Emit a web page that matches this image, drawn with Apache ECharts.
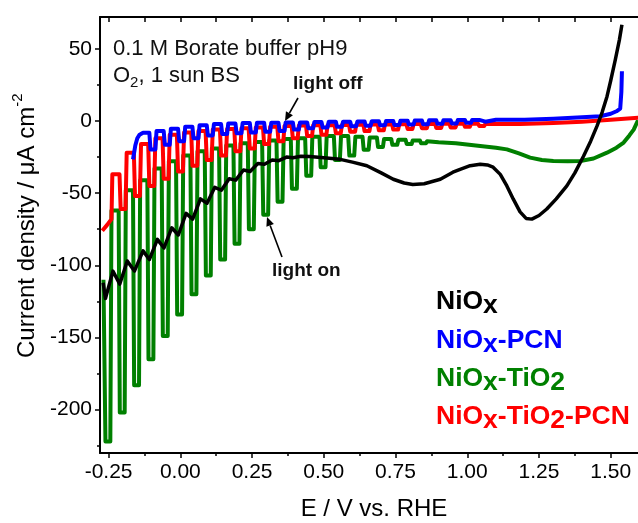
<!DOCTYPE html>
<html><head><meta charset="utf-8">
<script src="https://cdn.jsdelivr.net/npm/echarts@6/dist/echarts.min.js"></script>
<style>html,body{margin:0;padding:0;background:#fff}#c{width:638px;height:523px}</style>
</head><body><div id="c"></div>
<script>
// ---------------- data ----------------
// axis ticks
const xMajor = [-0.25, 0, 0.25, 0.5, 0.75, 1.0, 1.25, 1.5];
const xMinor = [-0.125, 0.125, 0.375, 0.625, 0.875, 1.125, 1.375];
const yMajor = [-200, -150, -100, -50, 0, 50];
const yMinor = [-225, -175, -125, -75, -25, 25];

// NiOx-TiO2 (green): chopped light, light-on potentials, light level, dark level after each pulse
const greenStart = [[-0.268, -110]];
const greenOn = [-0.265,-0.215,-0.165,-0.115,-0.065,-0.015,0.035,0.085,0.135,0.185,0.235,0.285,0.335,0.385,0.435,0.485,0.535,0.585,0.635,0.685,0.735,0.785,0.835];
const greenLight = [-222,-202,-183,-165,-149,-134,-120,-107,-96,-85,-75,-65,-56,-47,-38,-32,-27,-24,-20,-18,-16.5,-16,-15.5];
const greenDark = [-62,-48,-41,-33,-28,-24,-21,-19,-17,-15.5,-14.5,-13.5,-12.5,-12,-11,-10.5,-10.5,-11,-11.5,-12.5,-13,-13.5,-14];
const greenTail = [[0.9,-14.8],[0.96,-15.5],[1.045,-17.4],[1.1,-18.5],[1.138,-19.7],[1.18,-22.5],[1.219,-25.4],[1.26,-27],[1.3,-27.7],[1.35,-28],[1.394,-27.7],[1.44,-26],[1.487,-22],[1.52,-18.5],[1.545,-15],[1.565,-10],[1.58,-6],[1.595,0.5]];

// NiOx-TiO2-PCN (red)
const redStart = [[-0.272,-76],[-0.255,-72],[-0.24,-68],[-0.237,-37]];
const redOn = [-0.212,-0.162,-0.112,-0.062,-0.012,0.038,0.088,0.138,0.188,0.238,0.288,0.338,0.388,0.438,0.488,0.538,0.588,0.638,0.688,0.738,0.788,0.838,0.888,0.938,0.988,1.038];
const redLight = [-61,-52,-45,-40,-35,-31,-27,-24,-21,-19,-16,-14,-12,-10.5,-9.5,-8.5,-7.5,-7,-6.5,-6,-5.5,-5,-4.8,-4.5,-4,-3.5];
const redDark = [-22,-16,-12,-9.5,-8,-7,-6,-5.5,-5,-4.5,-4,-3.5,-3.2,-3,-3,-2.8,-2.6,-2.5,-2.4,-2.3,-2.2,-2.1,-2,-2,-2,-2];
const redTail = [[1.1,-2.2],[1.184,-2.2],[1.3,-1.4],[1.4,-0.5],[1.5,0.8],[1.596,2.2]];

// NiOx-PCN (blue)
const blueStart = [[-0.165,-26.6],[-0.157,-17],[-0.15,-12],[-0.142,-9.5],[-0.13,-8.2]];
const blueOn = [-0.108,-0.058,-0.008,0.042,0.092,0.142,0.192,0.242,0.292,0.342,0.392,0.442,0.492,0.542,0.592,0.642,0.692,0.742,0.792,0.842,0.892,0.942,0.992,1.042];
const blueLight = [-19.7,-16.5,-14,-12,-10,-9,-8.5,-8,-7.5,-7,-6,-5,-4.5,-4,-3.6,-3.3,-3,-2.8,-2.5,-2.3,-2,-1.7,-1.2,-0.5];
const blueDark = [-7,-5.4,-4,-3,-2.2,-1.8,-1.5,-1.2,-1.2,-1,-1,-0.8,-0.6,-0.5,-0.3,-0.2,0,0.2,0.3,0.4,0.5,0.6,0.7,0.8];
const blueTail = [[1.1,0.8],[1.2,0.8],[1.3,1.5],[1.4,2.5],[1.464,3.3],[1.5,5],[1.52,6.7],[1.533,8.5],[1.537,20],[1.539,34.4]];

// NiOx (black)
const blackPts = [[-0.269,-112],[-0.261,-123],[-0.235,-104],[-0.211,-113],[-0.185,-97],[-0.160,-104],[-0.130,-90],[-0.108,-96],[-0.080,-82],[-0.057,-88],[-0.030,-74],[-0.007,-79],[0.020,-64],[0.043,-68],[0.070,-54],[0.093,-57],[0.120,-46],[0.143,-48],[0.170,-40],[0.193,-41],[0.220,-34],[0.243,-35],[0.270,-29.5],[0.293,-30],[0.320,-27],[0.343,-27.5],[0.370,-25],[0.393,-25.5],[0.42,-24.5],[0.45,-24.7],[0.5,-25.5],[0.557,-26.6],[0.6,-28.5],[0.65,-31],[0.7,-36],[0.742,-40.4],[0.78,-43],[0.81,-44],[0.85,-43.5],[0.906,-40.4],[0.95,-35.5],[0.975,-33.5],[1.01,-31],[1.045,-30],[1.07,-30.5],[1.09,-32],[1.115,-37],[1.138,-45],[1.16,-54],[1.184,-63],[1.205,-67.5],[1.225,-68],[1.25,-65.5],[1.277,-61],[1.31,-54],[1.347,-45],[1.375,-36],[1.405,-24.5],[1.43,-14],[1.452,-3.6],[1.47,6],[1.487,17],[1.50,28],[1.516,42.5],[1.53,56],[1.539,66.6]];

const legendNames = ['NiOx', 'NiOx-PCN', 'NiOx-TiO2', 'NiOx-TiO2-PCN'];
const colors = {black:'#000000', blue:'#0000ff', green:'#008000', red:'#ff0000'};

// ---------------- build ----------------
function chopped(start, on, light, dark, tail) {
  const pts = start.map(p => p.slice());
  let prev = pts[pts.length - 1][1];
  for (let i = 0; i < on.length; i++) {
    pts.push([on[i], prev]);
    pts.push([on[i] + 0.004, light[i]]);
    pts.push([on[i] + 0.021, light[i]]);
    pts.push([on[i] + 0.025, dark[i]]);
    prev = dark[i];
  }
  return pts.concat(tail);
}
const greenPts = chopped(greenStart, greenOn, greenLight, greenDark, greenTail);
const redPts = chopped(redStart, redOn, redLight, redDark, redTail);
const bluePts = chopped(blueStart, blueOn, blueLight, blueDark, blueTail);

const FONT = '"Liberation Sans", Arial, Helvetica, sans-serif';
const mctx = document.createElement('canvas').getContext('2d');
function tw(t, font) { mctx.font = font; return mctx.measureText(t).width; }
function runs(x, y, parts, color) {
  const els = []; let cx = x;
  parts.forEach(p => {
    const font = (p.weight || 'normal') + ' ' + p.size + 'px ' + FONT;
    els.push({type:'text', x:cx, y:y + (p.dy || 0), silent:true,
      style:{text:p.t, font:font, fill:color, textAlign:'left', textVerticalAlign:'middle', align:'left', verticalAlign:'middle'}});
    cx += tw(p.t, font) + (p.gap || 0);
  });
  return els;
}
function legendParts(name) {
  // subscript letters after "NiO" and "TiO"
  const out = [];
  const re = /(NiO)(x)|(TiO)(2)|([^NT]+|N|T)/g;
  const S = 26.5;
  let m;
  while ((m = re.exec(name)) !== null) {
    if (m[1]) { out.push({t:m[1], size:S, weight:'bold'}); out.push({t:m[2], size:S, weight:'bold', dy:4}); }
    else if (m[3]) { out.push({t:m[3], size:S, weight:'bold'}); out.push({t:m[4], size:S, weight:'bold', dy:4}); }
    else out.push({t:m[5], size:S, weight:'bold'});
  }
  return out;
}
function arrow(x1, y1, x2, y2) {
  const a = Math.atan2(y2 - y1, x2 - x1), L = 9, W = 4;
  const bx = x2 - L * Math.cos(a), by = y2 - L * Math.sin(a);
  return [
    {type:'line', silent:true, shape:{x1:x1, y1:y1, x2:bx, y2:by}, style:{stroke:'#000', lineWidth:1.6}},
    {type:'polygon', silent:true, shape:{points:[[x2, y2], [bx + W * Math.sin(a), by - W * Math.cos(a)], [bx - W * Math.sin(a), by + W * Math.cos(a)]]}, style:{fill:'#000'}}
  ];
}

const legendColors = [colors.black, colors.blue, colors.green, colors.red];
const legendY = [302, 341, 379, 417];
let graphics = [];
legendNames.forEach((n, i) => { graphics = graphics.concat(runs(436, legendY[i], legendParts(n), legendColors[i])); });
graphics = graphics.concat(runs(113, 49, [{t:'0.1 M Borate buffer pH9', size:22}], '#111'));
graphics = graphics.concat(runs(113, 76, [{t:'O', size:22}, {t:'2', size:15, dy:7}, {t:', 1 sun BS', size:22}], '#111'));
graphics = graphics.concat(runs(293, 84, [{t:'light off', size:19, weight:'bold'}], '#111'));
graphics = graphics.concat(runs(272, 271, [{t:'light on', size:19, weight:'bold'}], '#111'));
graphics = graphics.concat(arrow(298, 98, 285, 121));
graphics = graphics.concat(arrow(282, 257, 267, 217));
graphics.push({type:'group', x:27, y:358, rotation:Math.PI / 2, silent:true,
  children: runs(0, 0, [{t:'Current density / μA cm', size:24}, {t:'-2', size:15, dy:-9}], '#000')});
graphics = graphics.concat(runs(374 - tw('E / V vs. RHE', '24px ' + FONT) / 2, 509, [{t:'E / V vs. RHE', size:24}], '#000'));

const chart = echarts.init(document.getElementById('c'), null, {renderer:'canvas'});
const axisFont = {fontFamily:FONT, fontSize:21, color:'#000'};
const xmin = -0.28, xmax = 1.595, ymin = -230, ymax = 72;
chart.setOption({
  animation:false,
  backgroundColor:'#fff',
  grid:{left:100, top:17, right:0, bottom:70, show:false},
  xAxis:[
    {type:'value', position:'bottom', min:xmin, max:xmax, splitLine:{show:false},
      axisLine:{show:true, onZero:false, lineStyle:{color:'#000', width:2}},
      axisTick:{show:true, customValues:xMajor, length:5, lineStyle:{color:'#000', width:1.5}},
      axisLabel:Object.assign({customValues:xMajor, margin:9, formatter:v => Number(v).toFixed(2)}, axisFont)},
    {type:'value', position:'bottom', min:xmin, max:xmax, splitLine:{show:false},
      axisLine:{show:false, onZero:false}, axisLabel:{show:false},
      axisTick:{show:true, customValues:xMinor, length:3, lineStyle:{color:'#000', width:1.5}}},
    {type:'value', position:'top', min:xmin, max:xmax, splitLine:{show:false},
      axisLine:{show:true, onZero:false, lineStyle:{color:'#000', width:2}}, axisLabel:{show:false},
      axisTick:{show:true, inside:true, customValues:xMajor.concat(xMinor), length:5, lineStyle:{color:'#000', width:1.5}}}
  ],
  yAxis:[
    {type:'value', position:'left', min:ymin, max:ymax, splitLine:{show:false},
      axisLine:{show:true, onZero:false, lineStyle:{color:'#000', width:2}},
      axisTick:{show:true, customValues:yMajor, length:5, lineStyle:{color:'#000', width:1.5}},
      axisLabel:Object.assign({customValues:yMajor, margin:8, formatter:v => String(Math.round(v))}, axisFont)},
    {type:'value', position:'left', min:ymin, max:ymax, splitLine:{show:false},
      axisLine:{show:false, onZero:false}, axisLabel:{show:false},
      axisTick:{show:true, customValues:yMinor, length:3, lineStyle:{color:'#000', width:1.5}}}
  ],
  series:[
    {name:legendNames[2], type:'line', data:greenPts, symbol:'none', showSymbol:false, lineStyle:{color:colors.green, width:4, join:'round'}, itemStyle:{color:colors.green}, z:2},
    {name:legendNames[3], type:'line', data:redPts, symbol:'none', showSymbol:false, lineStyle:{color:colors.red, width:4, join:'round'}, itemStyle:{color:colors.red}, z:3},
    {name:legendNames[1], type:'line', data:bluePts, symbol:'none', showSymbol:false, lineStyle:{color:colors.blue, width:4, join:'round'}, itemStyle:{color:colors.blue}, z:4},
    {name:legendNames[0], type:'line', data:blackPts, symbol:'none', showSymbol:false, lineStyle:{color:colors.black, width:3.5, join:'round'}, itemStyle:{color:colors.black}, z:5}
  ],
  graphic:graphics
});
</script>
</body></html>
